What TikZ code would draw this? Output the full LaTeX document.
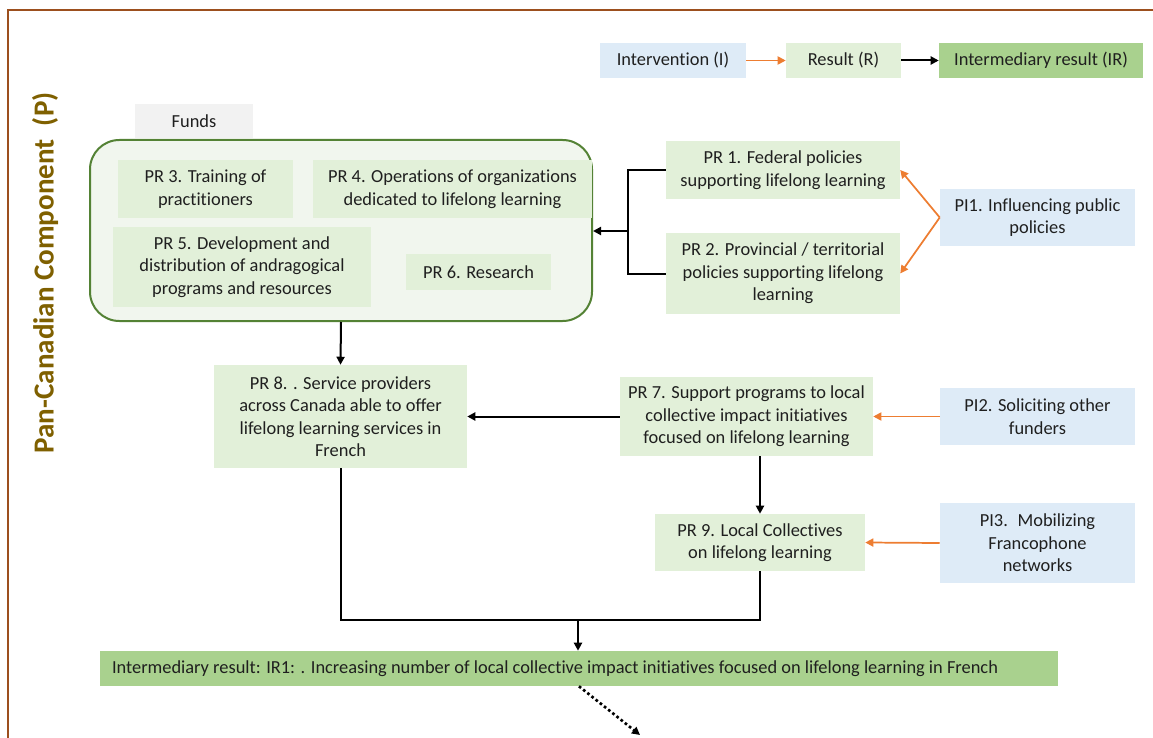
\documentclass[tikz,border=0pt]{standalone}
\usepackage{fontspec}
\setmainfont{Carlito}[Ligatures=NoCommon]
\usetikzlibrary{arrows.meta}
\definecolor{lgreen}{HTML}{E2F0D9}
\definecolor{lblue}{HTML}{DEEBF7}
\definecolor{irgreen}{HTML}{A9D18E}
\definecolor{contfill}{HTML}{F1F6EE}
\definecolor{contline}{HTML}{548235}
\definecolor{oarrow}{HTML}{ED7D31}
\definecolor{framec}{HTML}{9C4F1E}
\definecolor{titlec}{HTML}{7F6000}
\definecolor{fundsc}{HTML}{F2F2F2}
\definecolor{textc}{HTML}{1F1F1F}
\tikzset{
  gbox/.style={fill=lgreen, draw=none, align=center, inner sep=2pt, text=textc},
  bbox/.style={fill=lblue, draw=none, align=center, inner sep=2pt, text=textc},
  irbox/.style={fill=irgreen, draw=none, inner sep=2pt, text=textc},
  barr/.style={draw=black, line width=1.5pt, -{Triangle[length=6pt,width=6pt]}},
  bline/.style={draw=black, line width=1.5pt},
  oarr/.style={draw=oarrow, line width=1.3pt, -{Triangle[length=6pt,width=6pt]}},
  dotarr/.style={draw=black, line width=2pt, dotted, -{Triangle[length=6pt,width=6pt]}},
}
\begin{document}
\begin{tikzpicture}[x=0.75pt,y=-0.75pt, font=\fontsize{13.8}{16.9}\selectfont]
\useasboundingbox (0,0) rectangle (1153,738);
% frame
\draw[framec, line width=1pt] (1153,10) -- (8,10) -- (8,738);
% title
\node[rotate=90, text=titlec, font=\bfseries\fontsize{21.8}{26}\selectfont] (title) at (45,273) {Pan-Canadian Component~~(P)};
% legend
\node[bbox, minimum width=109.5pt, minimum height=26.25pt] (LI) at (673,60.5) {Intervention (I)};
\node[gbox, minimum width=86.25pt, minimum height=26.25pt] (LR) at (843.5,60.5) {Result (R)};
\node[irbox, minimum width=153pt, minimum height=26.25pt] (LIR) at (1041,60.5) {Intermediary result (IR)};
\draw[oarr] (LI.east) -- (LR.west);
\draw[barr] (LR.east) -- (LIR.west);
% funds + container
\node[fill=fundsc, minimum width=88.5pt, minimum height=25.5pt, inner sep=2pt, text=textc] (funds) at (194,121) {Funds};
\node[draw=contline, line width=1.5pt, fill=contfill, rounded corners=22pt, minimum width=376.5pt, minimum height=135.75pt] (cont) at (341,230.5) {};
\node[gbox, minimum width=131.25pt, minimum height=43.5pt] (PR3) at (205.5,189) {PR 3. Training of\\practitioners};
\node[gbox, minimum width=209.25pt, minimum height=43.5pt] (PR4) at (452.5,189) {PR 4. Operations of organizations\\dedicated to lifelong learning};
\node[gbox, minimum width=193.5pt, minimum height=60pt] (PR5) at (242,267) {PR 5. Development and\\distribution of andragogical\\programs and resources};
\node[gbox, minimum width=108.75pt, minimum height=27pt] (PR6) at (478.5,272) {PR 6. Research};
% policies
\node[gbox, minimum width=175.5pt, minimum height=43.5pt] (PR1) at (783,170) {PR 1. Federal policies\\supporting lifelong learning};
\node[gbox, minimum width=175.5pt, minimum height=60.75pt] (PR2) at (783,273.5) {PR 2. Provincial / territorial\\policies supporting lifelong\\learning};
\node[bbox, minimum width=146.25pt, minimum height=42.75pt] (PI1) at (1037.5,217.5) {PI1. Influencing public\\policies};
\coordinate (b) at (628,231);
\draw[bline] (PR1.west) -| (b);
\draw[bline] (b) |- (PR2.west);
\draw[barr] (b) -- (b -| cont.east);
\draw[oarr] (PI1.west) -- (PR1.east);
\draw[oarr] (PI1.west) -- (PR2.east);
% middle
\node[gbox, minimum width=189.75pt, minimum height=77.25pt] (PR8) at (340.5,416.5) {PR 8. . Service providers\\across Canada able to offer\\lifelong learning services in\\French};
\node[gbox, minimum width=189.75pt, minimum height=59.25pt] (PR7) at (746.5,416.5) {PR 7. Support programs to local\\collective impact initiatives\\focused on lifelong learning};
\node[bbox, minimum width=146.25pt, minimum height=42.75pt] (PI2) at (1037.5,416.5) {PI2. Soliciting other\\funders};
\node[gbox, minimum width=157.5pt, minimum height=42.75pt] (PR9) at (760,542.5) {PR 9. Local Collectives\\on lifelong learning};
\node[bbox, minimum width=146.25pt, minimum height=60pt] (PI3) at (1037.5,543) {PI3.~ Mobilizing\\Francophone\\networks};
\draw[barr] (cont.south) -- (PR8.north);
\draw[barr] (PR7.west) -- (PR8.east);
\draw[oarr] (PI2.west) -- (PR7.east);
\draw[barr] (PR7.south -| PR9.north) -- (PR9.north);
\draw[oarr] (PI3.west) -- (PR9.east);
% bottom
\node[irbox, inner xsep=9pt, minimum height=26.25pt] (IR) at (579,668.5) {\makebox[700.5pt][l]{Intermediary result: IR1: . Increasing number of local collective impact initiatives focused on lifelong learning in French}};
\coordinate (m) at (578,620);
\draw[bline] (PR8.south) |- (m);
\draw[bline] (m) -| (PR9.south);
\draw[barr] (m) -- (m |- IR.north);
\coordinate (d) at (640,735);
\draw[dotarr] (IR.south) -- (d);
\end{tikzpicture}
\end{document}
